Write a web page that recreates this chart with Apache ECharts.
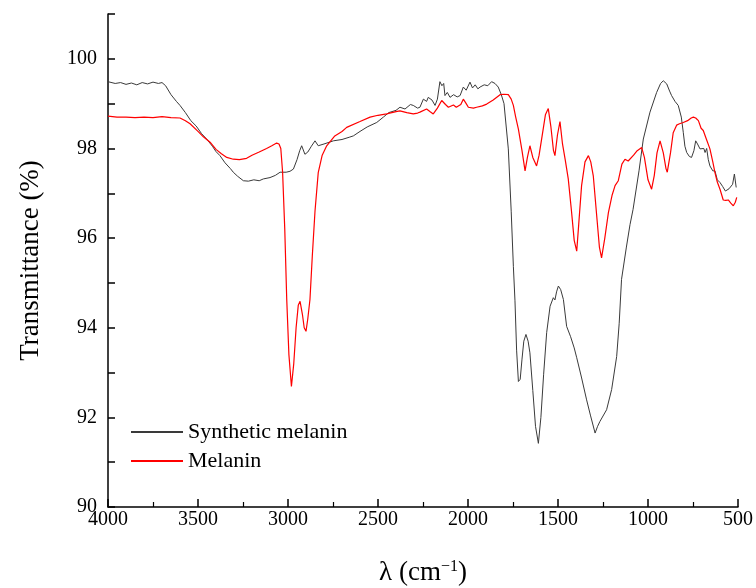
<!DOCTYPE html>
<html>
<head>
<meta charset="utf-8">
<script src="https://cdn.jsdelivr.net/npm/echarts@6/dist/echarts.min.js"></script>
<style>
  html, body { margin: 0; padding: 0; background: #fff; }
  #chart { width: 756px; height: 588px; }
</style>
</head>
<body>
<div id="chart"></div>
<script>
// wavenumbers (cm-1) and transmittance (%)
const synthWn = [4000, 3960, 3930, 3900, 3870, 3840, 3810, 3780, 3750, 3720, 3700, 3680, 3650, 3620, 3600, 3570, 3540, 3510, 3480, 3452, 3420, 3400, 3378, 3350, 3320, 3304, 3280, 3248, 3220, 3190, 3160, 3137, 3100, 3070, 3044, 3010, 2989, 2970, 2950, 2935, 2924, 2906, 2890, 2870, 2850, 2832, 2800, 2770, 2748, 2700, 2660, 2637, 2600, 2560, 2507, 2470, 2440, 2400, 2378, 2350, 2320, 2304, 2280, 2267, 2248, 2230, 2221, 2200, 2183, 2170, 2156, 2145, 2135, 2128, 2115, 2100, 2080, 2060, 2044, 2026, 2010, 1989, 1975, 1960, 1945, 1933, 1910, 1890, 1869, 1850, 1832, 1815, 1800, 1794, 1776, 1760, 1748, 1739, 1730, 1720, 1710, 1700, 1690, 1678, 1666, 1656, 1640, 1625, 1609, 1595, 1580, 1563, 1544, 1526, 1517, 1508, 1498, 1485, 1470, 1452, 1430, 1410, 1396, 1370, 1341, 1320, 1294, 1280, 1267, 1230, 1202, 1174, 1160, 1147, 1120, 1100, 1083, 1050, 1026, 989, 952, 930, 915, 896, 880, 869, 850, 832, 815, 804, 795, 785, 770, 758, 745, 735, 725, 711, 700, 690, 683, 674, 665, 656, 640, 628, 615, 600, 585, 570, 563, 550, 544, 530, 520, 510];
const synthT = [99.49, 99.45, 99.47, 99.43, 99.46, 99.42, 99.47, 99.44, 99.48, 99.45, 99.47, 99.40, 99.20, 99.05, 98.96, 98.80, 98.62, 98.50, 98.33, 98.21, 98.05, 97.93, 97.84, 97.68, 97.55, 97.47, 97.38, 97.28, 97.27, 97.30, 97.28, 97.32, 97.35, 97.40, 97.47, 97.47, 97.49, 97.54, 97.75, 97.95, 98.06, 97.87, 97.92, 98.05, 98.17, 98.06, 98.10, 98.14, 98.17, 98.20, 98.25, 98.28, 98.38, 98.48, 98.58, 98.70, 98.80, 98.85, 98.92, 98.88, 98.98, 98.96, 98.90, 98.92, 99.10, 99.05, 99.14, 99.08, 98.96, 99.10, 99.49, 99.40, 99.45, 99.18, 99.25, 99.14, 99.20, 99.15, 99.18, 99.37, 99.30, 99.48, 99.35, 99.42, 99.33, 99.37, 99.42, 99.40, 99.49, 99.45, 99.37, 99.20, 99.00, 98.96, 97.99, 96.60, 95.37, 94.60, 93.50, 92.80, 92.85, 93.30, 93.70, 93.85, 93.70, 93.44, 92.60, 91.80, 91.42, 92.00, 92.95, 93.89, 94.48, 94.67, 94.62, 94.80, 94.93, 94.85, 94.63, 94.03, 93.80, 93.55, 93.33, 92.90, 92.39, 92.05, 91.65, 91.80, 91.91, 92.17, 92.62, 93.36, 94.10, 95.08, 95.80, 96.30, 96.64, 97.50, 98.21, 98.81, 99.25, 99.45, 99.51, 99.44, 99.28, 99.18, 99.05, 98.96, 98.70, 98.36, 98.05, 97.91, 97.82, 97.80, 97.95, 98.17, 98.10, 97.99, 97.95, 98.00, 97.91, 98.00, 97.75, 97.61, 97.50, 97.50, 97.30, 97.24, 97.15, 97.05, 97.02, 97.10, 97.09, 97.20, 97.43, 97.13];

const melWn = [4000, 3950, 3900, 3850, 3800, 3750, 3700, 3650, 3600, 3570, 3544, 3500, 3470, 3433, 3400, 3370, 3340, 3304, 3270, 3230, 3200, 3160, 3119, 3090, 3063, 3050, 3040, 3030, 3018, 3007, 2995, 2981, 2968, 2955, 2943, 2933, 2920, 2910, 2900, 2890, 2878, 2865, 2850, 2832, 2810, 2785, 2740, 2700, 2674, 2600, 2544, 2500, 2452, 2400, 2378, 2340, 2304, 2280, 2267, 2230, 2210, 2193, 2170, 2146, 2125, 2109, 2081, 2065, 2054, 2040, 2026, 2010, 1998, 1970, 1952, 1920, 1896, 1860, 1822, 1800, 1776, 1760, 1748, 1735, 1720, 1700, 1683, 1670, 1656, 1640, 1619, 1605, 1591, 1570, 1554, 1540, 1525, 1517, 1503, 1489, 1475, 1460, 1443, 1425, 1410, 1396, 1385, 1369, 1350, 1331, 1318, 1304, 1285, 1270, 1258, 1240, 1220, 1200, 1183, 1165, 1145, 1128, 1110, 1100, 1080, 1060, 1035, 1020, 1000, 980, 965, 950, 933, 915, 900, 893, 875, 860, 841, 825, 804, 780, 760, 748, 735, 720, 705, 693, 675, 656, 640, 628, 615, 600, 582, 568, 554, 540, 526, 515, 507];
const melT = [98.72, 98.70, 98.70, 98.69, 98.70, 98.69, 98.71, 98.69, 98.68, 98.62, 98.55, 98.38, 98.26, 98.14, 97.98, 97.88, 97.80, 97.76, 97.75, 97.78, 97.85, 97.92, 98.00, 98.06, 98.12, 98.10, 98.00, 97.47, 96.20, 94.63, 93.40, 92.69, 93.20, 94.00, 94.50, 94.59, 94.30, 94.00, 93.92, 94.20, 94.63, 95.60, 96.60, 97.46, 97.85, 98.06, 98.28, 98.38, 98.47, 98.60, 98.70, 98.74, 98.77, 98.82, 98.84, 98.80, 98.77, 98.79, 98.81, 98.88, 98.82, 98.77, 98.90, 99.07, 98.98, 98.92, 98.97, 98.92, 98.88, 98.98, 99.10, 99.00, 98.92, 98.90, 98.92, 98.95, 98.99, 99.08, 99.20, 99.21, 99.20, 99.10, 98.96, 98.70, 98.43, 97.95, 97.50, 97.80, 98.06, 97.80, 97.61, 97.85, 98.21, 98.75, 98.89, 98.50, 97.95, 97.84, 98.30, 98.60, 98.10, 97.75, 97.32, 96.60, 95.95, 95.71, 96.30, 97.17, 97.70, 97.84, 97.70, 97.39, 96.50, 95.80, 95.56, 96.00, 96.57, 96.95, 97.17, 97.28, 97.65, 97.76, 97.72, 97.70, 97.85, 97.95, 98.02, 97.80, 97.30, 97.09, 97.40, 97.90, 98.17, 97.90, 97.55, 97.47, 97.90, 98.35, 98.52, 98.55, 98.58, 98.62, 98.68, 98.70, 98.68, 98.62, 98.45, 98.40, 98.20, 97.99, 97.70, 97.46, 97.25, 97.09, 96.85, 96.84, 96.85, 96.78, 96.72, 96.80, 96.91];

const seriesNames = ['Synthetic melanin', 'Melanin'];
const xTicks = [500, 1000, 1500, 2000, 2500, 3000, 3500, 4000];
const yTicks = [90, 92, 94, 96, 98, 100];

function pairs(xs, ys) {
  return xs.map((x, i) => [x, ys[i]]);
}

const font = 'Liberation Serif, Times New Roman, serif';
const chart = echarts.init(document.getElementById('chart'));

const option = {
  backgroundColor: '#fff',
  animation: false,
  grid: { left: 108, right: 18, top: 14, bottom: 81, outerBoundsMode: 'none', containLabel: false },
  legend: {
    orient: 'vertical',
    left: 126,
    top: 416,
    itemWidth: 52,
    itemHeight: 2,
    itemGap: 7,
    icon: 'rect',
    textStyle: { fontFamily: font, fontSize: 22, color: '#000' },
    data: seriesNames
  },
  xAxis: {
    type: 'value',
    inverse: true,
    min: 500,
    max: 4000,
    interval: 500,
    name: 'λ (cm{sup|−1})',
    nameLocation: 'middle',
    nameGap: 52,
    nameTextStyle: {
      fontFamily: font, fontSize: 27, color: '#000',
      rich: { sup: { fontFamily: font, fontSize: 16, color: '#000', verticalAlign: 'top', padding: [0, 0, 12, 0] } }
    },
    axisLine: { show: true, lineStyle: { color: '#000', width: 1.5 } },
    axisTick: { show: true, inside: true, length: 8, lineStyle: { color: '#000', width: 1.5 } },
    minorTick: { show: true, splitNumber: 2, length: 5, lineStyle: { color: '#000', width: 1.2 } },
    axisLabel: {
      fontFamily: font, fontSize: 20, color: '#000', margin: 3,
      formatter: v => xTicks.includes(v) ? String(v) : ''
    },
    splitLine: { show: false }
  },
  yAxis: {
    type: 'value',
    min: 90,
    max: 101,
    interval: 1,
    name: 'Transmittance (%)',
    nameLocation: 'middle',
    nameGap: 64,
    nameTextStyle: { fontFamily: font, fontSize: 27, color: '#000' },
    axisLine: { show: true, lineStyle: { color: '#000', width: 1.5 } },
    axisTick: { show: true, inside: true, length: 7, lineStyle: { color: '#000', width: 1.5 } },
    axisLabel: {
      fontFamily: font, fontSize: 20, color: '#000', margin: 11,
      formatter: v => yTicks.includes(v) ? String(v) : ''
    },
    splitLine: { show: false }
  },
  series: [
    {
      name: seriesNames[0],
      type: 'line',
      data: pairs(synthWn, synthT),
      showSymbol: false,
      symbol: 'none',
      color: '#3a3a3a',
      lineStyle: { color: '#3a3a3a', width: 1 }
    },
    {
      name: seriesNames[1],
      type: 'line',
      data: pairs(melWn, melT),
      showSymbol: false,
      symbol: 'none',
      color: '#ff0000',
      lineStyle: { color: '#ff0000', width: 1.2 }
    }
  ]
};

chart.setOption(option);
</script>
</body>
</html>
